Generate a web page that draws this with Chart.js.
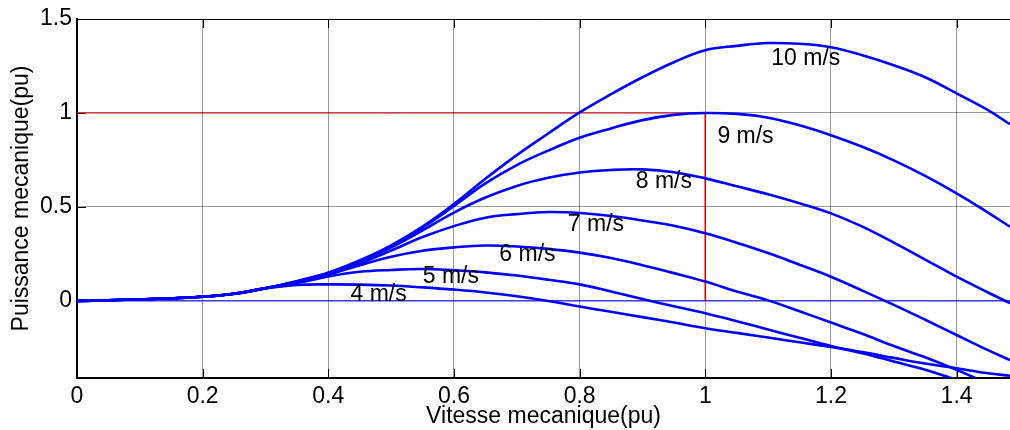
<!DOCTYPE html>
<html>
<head>
<meta charset="utf-8">
<script src="https://cdn.jsdelivr.net/npm/chart.js@4"></script>
<style>
  html, body { margin: 0; padding: 0; background: #fff; }
  #wrap { width: 1010px; height: 430px; }
</style>
</head>
<body>
<div id="wrap"><canvas id="chart" width="1010" height="430"></canvas></div>
<script>
// vitesse mecanique (pu)
const speeds = [0, 0.05, 0.1, 0.15, 0.2, 0.25, 0.3, 0.35, 0.4, 0.45, 0.5, 0.55, 0.6, 0.65, 0.7,
  0.75, 0.8, 0.85, 0.9, 0.95, 1.0, 1.05, 1.1, 1.15, 1.2, 1.25, 1.3, 1.35, 1.4, 1.45, 1.485];

// puissance mecanique (pu) pour chaque vitesse du vent
const p10 = [0, 0.004, 0.009, 0.014, 0.022, 0.038, 0.068, 0.105, 0.15, 0.215, 0.295, 0.395, 0.515, 0.65, 0.776,
  0.891, 1.003, 1.10, 1.19, 1.27, 1.334, 1.357, 1.372, 1.368, 1.35, 1.307, 1.254, 1.19, 1.104, 1.015, 0.94];
const p9 = [0, 0.004, 0.009, 0.014, 0.022, 0.038, 0.068, 0.105, 0.15, 0.215, 0.29, 0.39, 0.505, 0.625, 0.723,
  0.80, 0.868, 0.918, 0.962, 0.99, 1.0, 0.995, 0.975, 0.935, 0.882, 0.82, 0.748, 0.665, 0.572, 0.47, 0.395];
const p8 = [0, 0.004, 0.009, 0.014, 0.022, 0.038, 0.068, 0.10, 0.147, 0.21, 0.285, 0.375, 0.47, 0.55, 0.612,
  0.655, 0.683, 0.697, 0.70, 0.685, 0.652, 0.61, 0.568, 0.52, 0.466, 0.395, 0.31, 0.22, 0.129, 0.045, -0.012];
const p7 = [0, 0.004, 0.009, 0.014, 0.022, 0.038, 0.068, 0.10, 0.145, 0.2, 0.268, 0.34, 0.398, 0.443, 0.462,
  0.473, 0.468, 0.452, 0.428, 0.40, 0.36, 0.31, 0.255, 0.193, 0.129, 0.055, -0.021, -0.10, -0.181, -0.262, -0.315];
const p6 = [0, 0.004, 0.009, 0.014, 0.022, 0.038, 0.068, 0.10, 0.14, 0.19, 0.235, 0.267, 0.285, 0.295, 0.29,
  0.277, 0.257, 0.228, 0.19, 0.148, 0.103, 0.05, 0.003, -0.055, -0.115, -0.175, -0.24, -0.30, -0.367, -0.44];
const p5 = [0, 0.004, 0.009, 0.014, 0.022, 0.038, 0.068, 0.095, 0.13, 0.155, 0.165, 0.17, 0.163, 0.152, 0.135,
  0.113, 0.088, 0.05, 0.01, -0.028, -0.065, -0.108, -0.152, -0.196, -0.24, -0.278, -0.322, -0.366, -0.42];
const p4 = [0, 0.004, 0.009, 0.014, 0.022, 0.038, 0.066, 0.085, 0.088, 0.087, 0.082, 0.072, 0.06, 0.045, 0.025,
  0.0, -0.03, -0.058, -0.086, -0.115, -0.145, -0.17, -0.195, -0.22, -0.245, -0.272, -0.303, -0.333, -0.358, -0.385, -0.398];

// etiquettes des courbes
const windLabels = ['10 m/s', '9 m/s', '8 m/s', '7 m/s', '6 m/s', '5 m/s', '4 m/s'];
const labelX = [1.16, 1.064, 0.934, 0.826, 0.717, 0.595, 0.48];
const labelY = [1.291, 0.873, 0.634, 0.404, 0.248, 0.129, 0.036];

// lignes de reference (point nominal)
const nominalX = [0, 1, 1];
const nominalY = [1, 1, 0];
const zeroX = [0, 1.485];
const zeroY = [0, 0];

// graduations
const xTicks = [0, 0.2, 0.4, 0.6, 0.8, 1, 1.2, 1.4];
const yTicks = [0, 0.5, 1, 1.5];
const xRange = [0, 1.485];
const yRange = [-0.41, 1.5];

const FONT = { family: "'Liberation Sans', Arial, sans-serif", size: 23 };

function toPoints(xs, ys) {
  return ys.map((y, i) => ({ x: xs[i], y: y }));
}

function curve(values) {
  return {
    data: toPoints(speeds, values),
    borderColor: '#0000ff',
    borderWidth: 2.6,
    pointRadius: 0,
    tension: 0.4,
    fill: false,
    order: 0
  };
}

/**
 * cadre du haut, graduations interieures et etiquettes des courbes
 */
const decorPlugin = {
  id: 'decor',
  beforeDatasetsDraw(chart) {
    const { ctx, chartArea: a, scales } = chart;
    ctx.save();
    ctx.strokeStyle = '#000';
    ctx.lineWidth = 1;
    ctx.beginPath();
    ctx.moveTo(a.left, a.top + 0.5);
    ctx.lineTo(a.right, a.top + 0.5);
    xTicks.forEach(v => {
      const px = Math.round(scales.x.getPixelForValue(v)) + 0.5;
      ctx.moveTo(px, a.bottom);
      ctx.lineTo(px, a.bottom - 9);
      ctx.moveTo(px, a.top);
      ctx.lineTo(px, a.top + 9);
    });
    yTicks.forEach(v => {
      const py = Math.round(scales.y.getPixelForValue(v)) + 0.5;
      ctx.moveTo(a.left, py);
      ctx.lineTo(a.left + 9, py);
    });
    ctx.stroke();
    ctx.restore();
  },
  afterDatasetsDraw(chart) {
    const { ctx, scales } = chart;
    ctx.save();
    ctx.fillStyle = '#000';
    ctx.font = FONT.size + 'px ' + FONT.family;
    ctx.textAlign = 'center';
    ctx.textBaseline = 'middle';
    windLabels.forEach((t, i) => {
      ctx.fillText(t, scales.x.getPixelForValue(labelX[i]), scales.y.getPixelForValue(labelY[i]));
    });
    ctx.restore();
  }
};

Chart.defaults.font.family = FONT.family;
Chart.defaults.font.size = FONT.size;
Chart.defaults.color = '#000';

const ctx = document.getElementById('chart').getContext('2d');
new Chart(ctx, {
  type: 'line',
  data: {
    datasets: [
      curve(p10), curve(p9), curve(p8), curve(p7), curve(p6), curve(p5), curve(p4),
      {
        data: toPoints(nominalX, nominalY),
        borderColor: '#e00000',
        borderWidth: 1,
        pointRadius: 0,
        order: 10
      },
      {
        data: toPoints(zeroX, zeroY),
        borderColor: '#0000ff',
        borderWidth: 1,
        pointRadius: 0,
        order: 10
      }
    ]
  },
  options: {
    responsive: false,
    animation: false,
    events: [],
    layout: { padding: { top: 19, right: 0, left: 0, bottom: 0 } },
    plugins: {
      legend: { display: false },
      tooltip: { enabled: false }
    },
    scales: {
      x: {
        type: 'linear',
        min: xRange[0],
        max: xRange[1],
        afterBuildTicks: s => { s.ticks = xTicks.map(v => ({ value: v })); },
        afterFit: s => { s.height = 52; },
        ticks: { padding: 5, maxRotation: 0, autoSkip: false, callback: v => String(v) },
        grid: { color: 'rgba(0,0,0,0.4)', lineWidth: 1, drawTicks: false },
        border: { color: '#000', width: 2 },
        title: {
          display: true,
          text: 'Vitesse mecanique(pu)',
          padding: { top: 1, bottom: 0 }
        }
      },
      y: {
        type: 'linear',
        min: yRange[0],
        max: yRange[1],
        afterBuildTicks: s => { s.ticks = yTicks.map(v => ({ value: v })); },
        afterFit: s => { s.width = 77; },
        ticks: { padding: 5, callback: v => String(v) },
        grid: { color: 'rgba(0,0,0,0.4)', lineWidth: 1, drawTicks: false },
        border: { color: '#000', width: 2 },
        title: {
          display: true,
          text: 'Puissance mecanique(pu)',
          padding: { top: 8, bottom: 0 }
        }
      }
    }
  },
  plugins: [decorPlugin]
});
</script>
</body>
</html>
